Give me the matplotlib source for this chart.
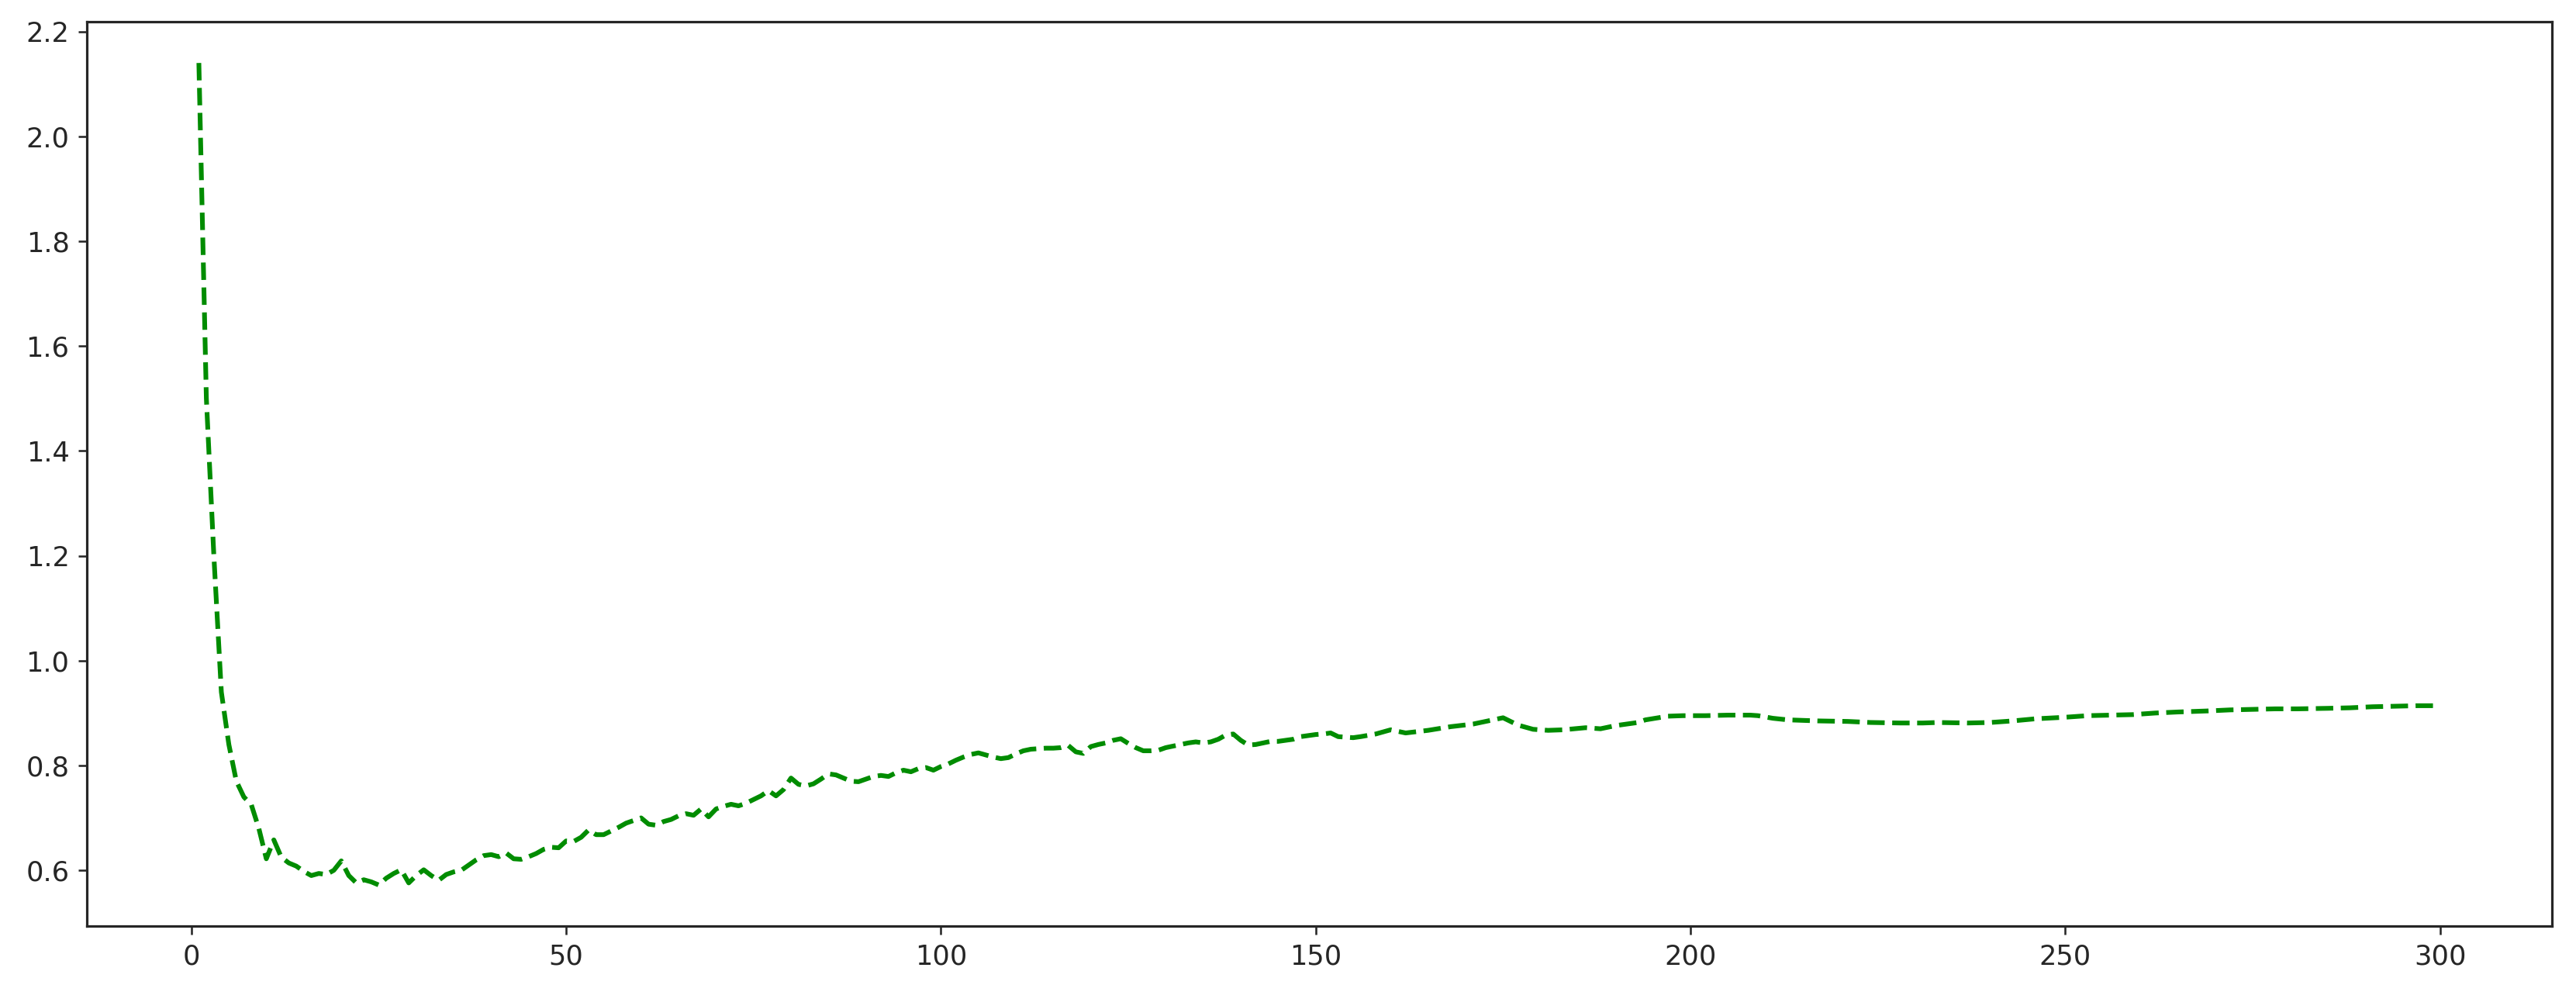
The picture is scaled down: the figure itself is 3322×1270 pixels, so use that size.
import matplotlib
matplotlib.use("Agg")
import matplotlib.pyplot as plt

# values (epoch, value)
epochs = [1, 2, 3, 4, 5, 6, 7, 8, 9, 10,
          11, 12, 13, 14, 15, 16, 17, 18, 19, 20,
          21, 22, 23, 24, 25, 26, 27, 28, 29, 30,
          31, 32, 33, 34, 35, 36, 37, 38, 39, 40,
          41, 42, 43, 44, 45, 46, 47, 48, 49, 50,
          51, 52, 53, 54, 55, 56, 57, 58, 59, 60,
          61, 62, 63, 64, 65, 66, 67, 68, 69, 70,
          71, 72, 73, 74, 75, 76, 77, 78, 79, 80,
          81, 82, 83, 84, 85, 86, 87, 88, 89, 90,
          91, 92, 93, 94, 95, 96, 97, 98, 99, 100,
          101, 102, 103, 104, 105, 106, 107, 108, 109, 110,
          111, 112, 113, 114, 115, 116, 117, 118, 119, 120,
          121, 122, 123, 124, 125, 126, 127, 128, 129, 130,
          131, 132, 133, 134, 135, 136, 137, 138, 139, 140,
          141, 142, 143, 144, 145, 146, 147, 148, 149, 150,
          151, 152, 153, 154, 155, 156, 158, 160, 162, 165,
          168, 171, 173, 175, 177, 179, 181, 183, 186, 188,
          190, 193, 194, 197, 199, 202, 205, 208, 209, 211,
          213, 215, 217, 221, 224, 228, 231, 233, 237, 240,
          243, 246, 250, 253, 256, 259, 262, 265, 269, 272,
          275, 278, 281, 285, 288, 291, 294, 297, 300]

values = [2.14, 1.50, 1.20, 0.94, 0.84, 0.77, 0.74, 0.725, 0.68, 0.622,
          0.658, 0.625, 0.614, 0.608, 0.598, 0.590, 0.594, 0.592, 0.600, 0.618,
          0.590, 0.576, 0.582, 0.578, 0.572, 0.585, 0.594, 0.601, 0.576, 0.590,
          0.601, 0.590, 0.581, 0.592, 0.597, 0.600, 0.610, 0.620, 0.628, 0.630,
          0.626, 0.633, 0.622, 0.621, 0.626, 0.632, 0.640, 0.644, 0.643, 0.656,
          0.655, 0.663, 0.677, 0.668, 0.668, 0.675, 0.682, 0.690, 0.695, 0.700,
          0.688, 0.686, 0.693, 0.697, 0.704, 0.708, 0.705, 0.717, 0.702, 0.717,
          0.722, 0.726, 0.723, 0.728, 0.735, 0.742, 0.752, 0.742, 0.754, 0.776,
          0.764, 0.761, 0.765, 0.774, 0.784, 0.782, 0.776, 0.770, 0.769, 0.774,
          0.779, 0.781, 0.779, 0.786, 0.791, 0.788, 0.794, 0.796, 0.791, 0.798,
          0.803, 0.810, 0.816, 0.821, 0.824, 0.820, 0.816, 0.813, 0.815, 0.822,
          0.828, 0.831, 0.832, 0.833, 0.833, 0.834, 0.838, 0.826, 0.823, 0.836,
          0.840, 0.843, 0.848, 0.851, 0.842, 0.834, 0.828, 0.828, 0.829, 0.834,
          0.837, 0.840, 0.843, 0.845, 0.843, 0.845, 0.850, 0.858, 0.860, 0.848,
          0.839, 0.840, 0.843, 0.846, 0.846, 0.848, 0.850, 0.855, 0.857, 0.859,
          0.860, 0.862, 0.855, 0.854, 0.853, 0.855, 0.860, 0.868, 0.862, 0.867,
          0.874, 0.879, 0.885, 0.891, 0.877, 0.869, 0.867, 0.868, 0.872, 0.870,
          0.876, 0.882, 0.887, 0.894, 0.895, 0.895, 0.896, 0.896, 0.895, 0.890,
          0.887, 0.886, 0.885, 0.884, 0.882, 0.881, 0.881, 0.882, 0.881, 0.882,
          0.885, 0.889, 0.892, 0.895, 0.896, 0.897, 0.900, 0.902, 0.904, 0.906,
          0.907, 0.908, 0.908, 0.909, 0.910, 0.912, 0.913, 0.914, 0.914]

dpi = 230
fig = plt.figure(figsize=(3322 / dpi, 1270 / dpi), dpi=dpi)
ax = fig.add_axes([0.0337, 0.0598, 0.957, 0.918])

ax.plot(epochs, values, color='#008c00', linestyle='--', linewidth=1.9)

ax.tick_params(labelsize=11, labelcolor='#262626', color='#262626')
for s in ax.spines.values():
    s.set_linewidth(1.0)
    s.set_color('#262626')

fig.savefig('out.png', dpi=dpi)
